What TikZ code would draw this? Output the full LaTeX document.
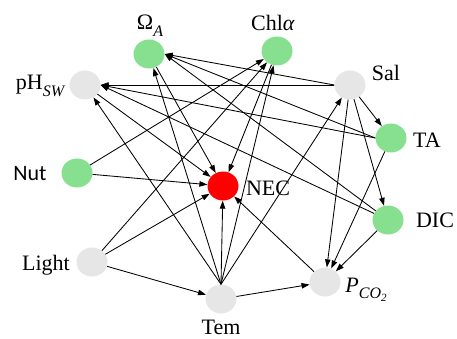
\documentclass[tikz,border=0pt]{standalone}
\usepackage{fontspec}
\setmainfont{Liberation Serif}
\newfontfamily\nutfont{Carlito}
\usetikzlibrary{arrows.meta,shapes.geometric}
\definecolor{vargreen}{RGB}{134,224,143}
\definecolor{vargray}{RGB}{230,230,230}
\definecolor{varred}{RGB}{255,0,0}
% subscripts set in text fonts
\newcommand{\lsub}[1]{\raisebox{-0.28em}{\fontsize{16}{16}\selectfont\itshape #1}}
\newcommand{\lsubsub}[1]{\raisebox{-0.22em}{\fontsize{11}{11}\selectfont #1}}
\begin{document}
\begin{tikzpicture}[x=1pt,y=-1pt,
  var/.style={ellipse, minimum width=31pt, minimum height=29pt, inner sep=0pt, draw=none},
  gvar/.style={var, fill=vargreen},
  wvar/.style={var, fill=vargray},
  rvar/.style={var, fill=varred},
  lab/.style={font=\fontsize{22}{26}\selectfont, inner sep=0pt, anchor=base},
  link/.style={-{Triangle[length=8pt,width=5.5pt]}, line width=0.85pt, black}
]
\useasboundingbox (0,0) rectangle (457,339);

% variables
\node[gvar] (oa)   at (149,54)  {};
\node[gvar] (chl)  at (277,51)  {};
\node[wvar] (ph)   at (85,85)   {};
\node[wvar] (sal)  at (350,85)  {};
\node[gvar] (ta)   at (391,138) {};
\node[gvar] (nut)  at (77,173)  {};
\node[rvar] (nec)  at (223,186) {};
\node[gvar] (dic)  at (388,220) {};
\node[wvar] (light) at (92,262) {};
\node[wvar] (tem)  at (221,299) {};
\node[wvar] (pco)  at (325,282) {};

% labels
\node[lab] (loa)   at (150,30)  {Ω\lsub{A}};
\node[lab] (lchl)  at (273,31)  {Chl\textit{α}};
\node[lab] (lph)   at (40,90)   {pH\lsub{SW}};
\node[lab] (lsal)  at (386,81)  {Sal};
\node[lab] (lta)   at (427,147) {TA};
\node[lab, font=\nutfont\fontsize{22}{26}\selectfont] (lnut) at (30,180) {Nut};
\node[lab] (lnec)  at (268,195) {NEC};
\node[lab] (ldic)  at (435,227) {DIC};
\node[lab] (llight) at (46,270) {Light};
\node[lab] (ltem)  at (221,334) {Tem};
\node[lab] (lpco)  at (366,292) {\textit{P}\lsub{CO\lsubsub{2}}};

% paths
\draw[link] (sal.west) -- (ph.east);
\draw[link] (sal.west) -- (oa.east);
\draw[link] (sal) -- (ta);
\draw[link] (sal) -- (dic);
\draw[link] (sal) -- (pco);
\draw[link] (ta.west) -- (ph.east);
\draw[link] (ta.west) -- (oa.east);
\draw[link] (ta) -- (pco);
\draw[link] (dic) -- (ph.east);
\draw[link] (dic) -- (oa.east);
\draw[link] (dic) -- (pco);
\draw[link] (tem.north) -- (ph);
\draw[link] (tem.north) -- (oa);
\draw[link] (tem.north) -- (chl);
\draw[link] (tem.north) -- (nec);
\draw[link] (tem.north) -- (sal);
\draw[link] (tem) -- (pco);
\draw[link] (light) -- (chl);
\draw[link] (light) -- (nec);
\draw[link] (light) -- (tem);
\draw[link] (nut) -- (chl);
\draw[link] (nut) -- (nec);
\draw[link] (oa) -- (nec);
\draw[link] (chl) -- (nec);
\draw[link] (ph) -- (nec);
\draw[link] (pco) -- (nec);
\end{tikzpicture}
\end{document}
